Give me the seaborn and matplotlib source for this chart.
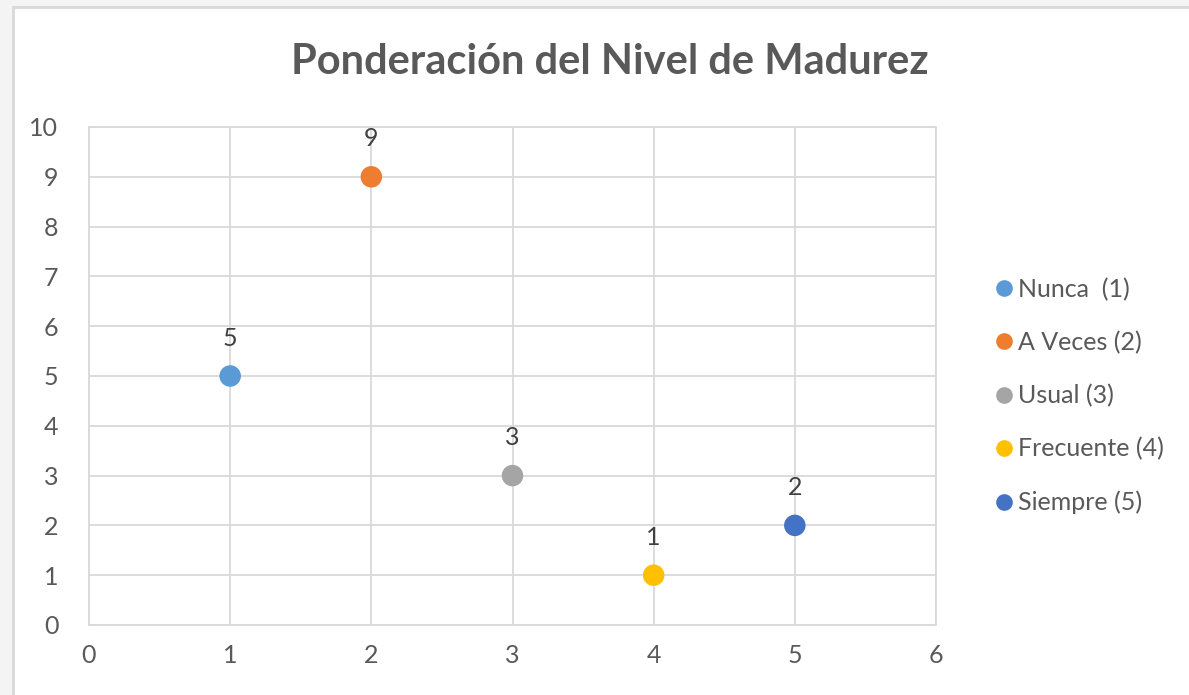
import matplotlib
matplotlib.use("Agg")
import matplotlib.pyplot as plt
from matplotlib.patches import Rectangle
from matplotlib.lines import Line2D
import seaborn as sns
import pandas as pd

# Maturity-level weighting data
categories = ["Nunca  (1)", "A Veces (2)", "Usual (3)", "Frecuente (4)", "Siempre (5)"]
x_values = [1, 2, 3, 4, 5]
y_values = [5, 9, 3, 1, 2]
colors = ["#5B9BD5", "#ED7D31", "#A5A5A5", "#FFC000", "#4472C4"]
title = "Ponderación del Nivel de Madurez"

df = pd.DataFrame({"x": x_values, "y": y_values, "serie": categories})

sns.set_theme(style="white")
plt.rcParams["font.family"] = ["Lato", "DejaVu Sans"]

W, H = 1189, 695
fig = plt.figure(figsize=(W / 100, H / 100), dpi=100)
fig.patch.set_facecolor("#F4F4F4")

# white chart area with thin frame, behind everything else
frame = Rectangle((13 / W, -0.05), 1.2, 1 - 7 / H + 0.05,
                  transform=fig.transFigure, facecolor="white",
                  edgecolor="#D9D9D9", linewidth=2.0, zorder=-10)
fig.patches.append(frame)

ax = fig.add_axes([89 / W, 1 - 625 / H, (936 - 89) / W, (625 - 127) / H])
ax.set_zorder(1)
ax.set_facecolor("white")

sns.scatterplot(data=df, x="x", y="y", hue="serie", hue_order=categories,
                palette=colors, s=240, edgecolor="none", legend=False,
                ax=ax, zorder=3)

for xv, yv in zip(x_values, y_values):
    ax.annotate(str(yv), (xv, yv), xytext=(0, 19), textcoords="offset points",
                ha="center", va="bottom", fontsize=18, color="#404040")

ax.set_xlim(0, 6)
ax.set_ylim(0, 10)
ax.set_xticks(range(0, 7))
ax.set_yticks(range(0, 11))
ax.grid(True, color="#D9D9D9", linewidth=1.3)
ax.set_axisbelow(True)
for sp in ax.spines.values():
    sp.set_color("#D9D9D9")
    sp.set_linewidth(1.3)
ax.tick_params(axis="both", length=0, labelsize=18, colors="#595959")
ax.tick_params(axis="x", pad=14)
ax.tick_params(axis="y", pad=22)
ax.set_xlabel("")
ax.set_ylabel("")

fig.text(610 / W, 1 - 62 / H, title, ha="center", va="center",
         fontsize=30, fontweight="bold", color="#595959")

handles = [Line2D([0], [0], marker="o", linestyle="none", markersize=12,
                  markerfacecolor=c, markeredgecolor="none") for c in colors]
fig.legend(handles, categories, loc="center left",
           bbox_to_anchor=(979 / W, 1 - 396 / H), frameon=False,
           fontsize=18, labelcolor="#595959", handletextpad=0.05,
           handlelength=1.0, labelspacing=1.2, borderpad=0)

fig.savefig("out.png", dpi=100, facecolor=fig.get_facecolor())
